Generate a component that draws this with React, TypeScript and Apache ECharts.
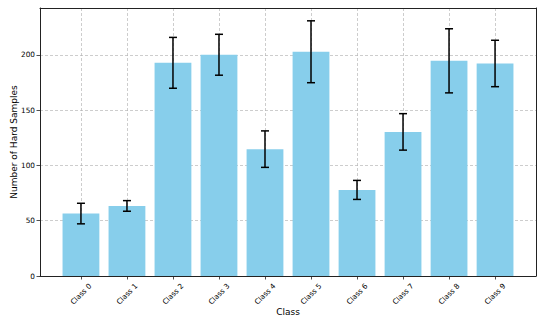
import React, { useEffect, useRef } from "react";
import * as echarts from "echarts";

const categories = ["Class 0", "Class 1", "Class 2", "Class 3", "Class 4", "Class 5", "Class 6", "Class 7", "Class 8", "Class 9"];
const means = [56.5, 63.4, 192.9, 200.2, 114.8, 202.9, 77.9, 130.4, 194.7, 192.3];
const errors = [9.3, 4.8, 23.0, 18.5, 16.5, 28.0, 8.6, 16.5, 29.0, 21.0];
const yTicks = [0, 50, 100, 150, 200];

const FONT = "DejaVu Sans";

export default function App() {
  const ref = useRef<HTMLDivElement>(null);
  useEffect(() => {
    if (!ref.current) return;
    const chart = echarts.init(ref.current, undefined, { renderer: "svg" });
    const xIdx = categories.map((_, i) => i);
    const barData = means.map((v, i) => [i, v]);
    const errData = means.map((v, i) => [i, v - errors[i], v + errors[i]]);
    const gridLine = { show: true, lineStyle: { color: "#b0b0b0", type: [3, 2], width: 0.8, opacity: 0.8 } };
    chart.setOption({
      animation: false,
      grid: { left: 40, right: 9, top: 8, bottom: 51, containLabel: false, outerBoundsMode: "none" },
      xAxis: [
        {
          type: "value",
          min: -0.89,
          max: 9.89,
          name: "Class",
          nameLocation: "middle",
          nameGap: 31,
          nameMoveOverlap: false,
          nameTextStyle: { fontFamily: FONT, fontSize: 9, color: "#000" },
          axisLine: { show: true, onZero: false, lineStyle: { color: "#222", width: 1 } },
          axisTick: { show: true, length: 3.5, lineStyle: { color: "#222", width: 0.8 }, customValues: xIdx },
          axisLabel: {
            customValues: xIdx,
            rotate: 45,
            margin: 18,
            align: "center",
            verticalAlign: "middle",
            fontFamily: FONT,
            fontSize: 7.3,
            color: "#000",
            formatter: (v: number) => categories[Math.round(v)],
          },
          splitLine: gridLine,
        },
        {
          type: "value",
          position: "top",
          min: -0.89,
          max: 9.89,
          axisLine: { show: true, onZero: false, lineStyle: { color: "#222", width: 1 } },
          axisTick: { show: false },
          axisLabel: { show: false },
          splitLine: { show: false },
        },
      ],
      yAxis: [
        {
          type: "value",
          min: 0,
          max: 242.5,
          name: "Number of Hard Samples",
          nameLocation: "middle",
          nameGap: 22,
          nameMoveOverlap: false,
          nameTextStyle: { fontFamily: FONT, fontSize: 9, color: "#000" },
          axisLine: { show: true, onZero: false, lineStyle: { color: "#222", width: 1 } },
          axisTick: { show: true, length: 3.5, lineStyle: { color: "#222", width: 0.8 }, customValues: yTicks },
          axisLabel: { customValues: yTicks, margin: 5, fontFamily: FONT, fontSize: 7.3, color: "#000" },
          splitLine: gridLine,
        },
        {
          type: "value",
          position: "right",
          min: 0,
          max: 242.5,
          axisLine: { show: true, onZero: false, lineStyle: { color: "#222", width: 1 } },
          axisTick: { show: false },
          axisLabel: { show: false },
          splitLine: { show: false },
        },
      ],
      series: [
        {
          type: "custom",
          xAxisIndex: 0,
          yAxisIndex: 0,
          data: barData,
          z: 5,
          renderItem: (params: any, api: any) => {
            const x = api.value(0);
            const top = api.coord([x, api.value(1)]);
            const base = api.coord([x, 0]);
            const w = api.size([0.8, 0])[0];
            return {
              type: "rect",
              shape: { x: top[0] - w / 2, y: top[1], width: w, height: base[1] - top[1] },
              style: { fill: "#87CEEB" },
            };
          },
        },
        {
          type: "custom",
          xAxisIndex: 0,
          yAxisIndex: 0,
          data: errData,
          z: 10,
          renderItem: (params: any, api: any) => {
            const x = api.value(0);
            const lo = api.coord([x, api.value(1)]);
            const hi = api.coord([x, api.value(2)]);
            const cap = 4;
            const style = { stroke: "#000", lineWidth: 1.5 };
            return {
              type: "group",
              children: [
                { type: "line", shape: { x1: lo[0], y1: lo[1], x2: hi[0], y2: hi[1] }, style },
                { type: "line", shape: { x1: lo[0] - cap, y1: lo[1], x2: lo[0] + cap, y2: lo[1] }, style },
                { type: "line", shape: { x1: hi[0] - cap, y1: hi[1], x2: hi[0] + cap, y2: hi[1] }, style },
              ],
            };
          },
        },
      ],
    });
    return () => chart.dispose();
  }, []);
  return <div ref={ref} style={{ width: 545, height: 327, position: "absolute", left: 0, top: 0 }} />;
}
